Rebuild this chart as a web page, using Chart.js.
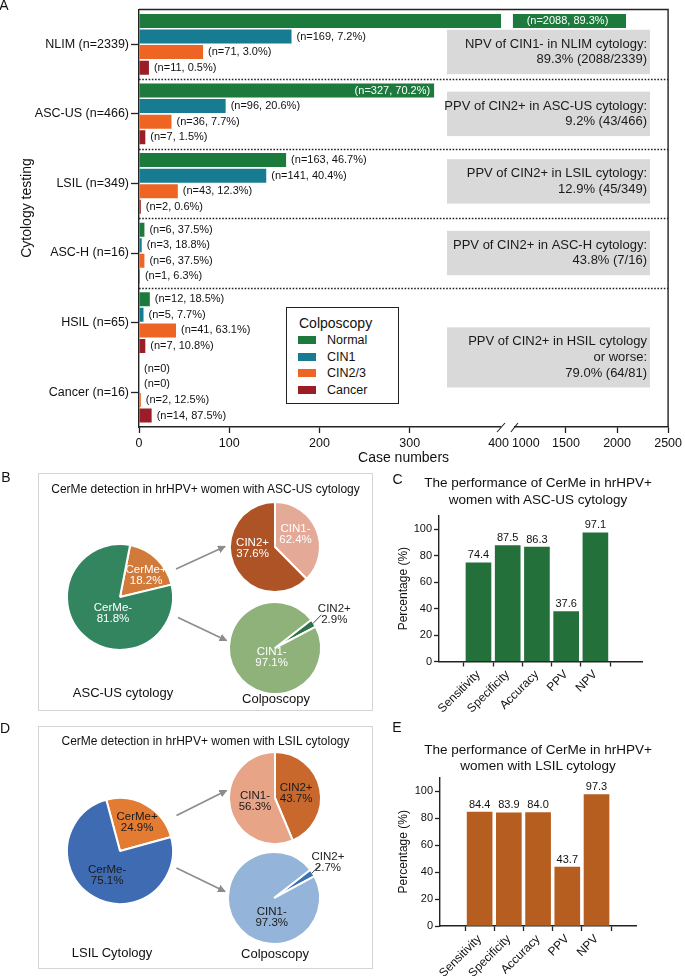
<!DOCTYPE html>
<html>
<head>
<meta charset="utf-8">
<script src="https://cdn.jsdelivr.net/npm/chart.js@4.4.1/dist/chart.umd.min.js"></script>
<style>
  body { margin: 0; background: #fff; font-family: 'Liberation Sans', Arial, sans-serif; color: #111; }
  #wrap { position: relative; width: 685px; height: 976px; overflow: hidden; }
  canvas { position: absolute; }
  .t { position: absolute; white-space: nowrap; transform: translate(-50%, -50%); line-height: 1; }
  .box { position: absolute; border: 1.5px solid #d4d4d4; box-sizing: border-box; }
  #legend { position: absolute; left: 286px; top: 307px; width: 113px; height: 97px; border: 1px solid #222; box-sizing: border-box; background: #fff; }
  #legend div { position: absolute; white-space: nowrap; line-height: 1; }
  svg { position: absolute; left: 0; top: 0; pointer-events: none; }
</style>
</head>
<body>
<div id="wrap">
  <canvas id="casesChart" width="685" height="470" style="left:0;top:0"></canvas>
  <div id="legend"></div>

  <div class="box" style="left:38px;top:473px;width:335px;height:238px"></div>
  <div class="box" style="left:38px;top:726px;width:335px;height:243px"></div>

  <canvas id="ascusPerfChart" width="265" height="215" style="left:390px;top:505px"></canvas>
  <canvas id="lsilPerfChart" width="265" height="209" style="left:390px;top:767px"></canvas>
</div>

<script>
// ---- panel A: colposcopy outcome by cytology ----
var cytology = ['NLIM', 'ASC-US', 'LSIL', 'ASC-H', 'HSIL', 'Cancer'];
var colpoLabels = ['Normal', 'CIN1', 'CIN2/3', 'Cancer'];
var normalCases = [2088, 327, 163, 6, 12, 0];
var cin1Cases = [169, 96, 141, 3, 5, 0];
var cin23Cases = [71, 36, 43, 6, 41, 2];
var cancerCases = [11, 7, 2, 1, 7, 14];
var caseTicks = [0, 100, 200, 300, 400, 1000, 1500, 2000, 2500];
var noteText = [
  ['NPV of CIN1- in NLIM cytology:', '89.3% (2088/2339)'],
  ['PPV of CIN2+ in ASC-US cytology:', '9.2% (43/466)'],
  ['PPV of CIN2+ in LSIL cytology:', '12.9% (45/349)'],
  ['PPV of CIN2+ in ASC-H cytology:', '43.8% (7/16)'],
  ['PPV of CIN2+ in HSIL cytology', 'or worse:', '79.0% (64/81)']
];
var noteAt = [0.11, 1, 1.97, 3, 4.5];     // category position each note box is centred on
var separatorsAfter = [0, 1, 2, 3];       // dotted line below these groups

// ---- panels C / E: performance ----
var perfLabels = ['Sensitivity', 'Specificity', 'Accuracy', 'PPV', 'NPV'];
var ascusPerf = [74.4, 87.5, 86.3, 37.6, 97.1];
var lsilPerf = [84.4, 83.9, 84.0, 43.7, 97.3];
var pctTicks = [0, 20, 40, 60, 80, 100];

// ---- panels B / D: pies ----
var ascusCerme = [18.2, 81.8];        // CerMe+, CerMe-
var ascusPosColpo = [37.6, 62.4];     // slices as the figure draws them (light, dark)
var ascusPosShown = [62.4, 37.6];     // numbers printed on those slices
var ascusNegColpo = [2.9, 97.1];      // CIN2+, CIN1-
var lsilCerme = [24.9, 75.1];         // CerMe+, CerMe-
var lsilPosColpo = [43.7, 56.3];      // CIN2+, CIN1-
var lsilNegColpo = [2.7, 97.3];       // CIN2+, CIN1-

var FONT = "'Liberation Sans', Arial, sans-serif";
Chart.defaults.font.family = FONT;
Chart.defaults.color = '#111';
Chart.defaults.animation = false;

var wrap = document.getElementById('wrap');
function put(text, x, y, size, extra) {
  var d = document.createElement('div');
  d.className = 't';
  d.textContent = text;
  d.style.left = x + 'px';
  d.style.top = y + 'px';
  d.style.fontSize = size + 'px';
  if (extra) d.style.cssText += extra;
  wrap.appendChild(d);
  return d;
}

// ---------- broken value axis for panel A ----------
var lowMax = 400, highMin = 1000, highMax = 2500;
var lowShare = 0.6823, gapShare = 0.0282;
function brokenFrac(v) {
  if (v <= lowMax) return v / lowMax * lowShare;
  if (v < highMin) return lowShare + (v - lowMax) / (highMin - lowMax) * gapShare;
  return lowShare + gapShare + (v - highMin) / (highMax - highMin) * (1 - lowShare - gapShare);
}
class BrokenScale extends Chart.LinearScale {
  static id = 'broken';
  static defaults = Chart.LinearScale.defaults;
  buildTicks() { return caseTicks.map(function(v) { return { value: v }; }); }
  getPixelForValue(v) { return this.getPixelForDecimal(brokenFrac(v)); }
  getValueForPixel(p) {
    var f = this.getDecimalForPixel(p);
    if (f <= lowShare) return f / lowShare * lowMax;
    if (f < lowShare + gapShare) return lowMax + (f - lowShare) / gapShare * (highMin - lowMax);
    return highMin + (f - lowShare - gapShare) / (1 - lowShare - gapShare) * (highMax - highMin);
  }
}
Chart.register(BrokenScale);

var segColors = ['#1c7a3c', '#177b92', '#ee6423', '#9b1d25'];
var series = [normalCases, cin1Cases, cin23Cases, cancerCases];
var totals = cytology.map(function(c, j) {
  return series.reduce(function(s, d) { return s + d[j]; }, 0);
});
var catLabels = cytology.map(function(c, j) { return c + ' (n=' + totals[j] + ')'; });

var panelA = {
  id: 'panelA',
  afterDatasetsDraw: function(chart) {
    var ctx = chart.ctx, area = chart.chartArea, xs = chart.scales.x, ys = chart.scales.y;
    var gapL = xs.getPixelForValue(lowMax), gapR = xs.getPixelForValue(highMin);
    ctx.save();
    ctx.fillStyle = '#fff';
    ctx.fillRect(gapL + 1, area.top + 1, gapR - gapL - 3, area.bottom - area.top - 2);

    ctx.strokeStyle = '#222';
    ctx.lineWidth = 1.6;
    ctx.setLineDash([1.6, 1.6]);
    separatorsAfter.forEach(function(i) {
      var y = Math.round(ys.getPixelForValue(i + 0.5)) + 0.5;
      ctx.beginPath(); ctx.moveTo(area.left, y); ctx.lineTo(area.right, y); ctx.stroke();
    });
    ctx.setLineDash([]);

    // note boxes
    ctx.font = '13px ' + FONT;
    ctx.textAlign = 'right';
    ctx.textBaseline = 'middle';
    noteText.forEach(function(lines, k) {
      var cy = ys.getPixelForValue(noteAt[k]);
      var h = lines.length * 15.7 + 13;
      ctx.fillStyle = '#d9d9d9';
      ctx.fillRect(447, cy - h / 2, 203, h);
      ctx.fillStyle = '#1a1a1a';
      lines.forEach(function(l, li) {
        ctx.fillText(l, 647, cy + (li - (lines.length - 1) / 2) * 15.7);
      });
    });

    // value labels
    ctx.font = '11px ' + FONT;
    chart.data.datasets.forEach(function(ds, di) {
      chart.getDatasetMeta(di).data.forEach(function(bar, j) {
        var v = ds.data[j];
        var txt = v === 0 ? '(n=0)' : '(n=' + v + ', ' + (v / totals[j] * 100).toFixed(1) + '%)';
        if (v > 300) {
          ctx.fillStyle = '#fff';
          if (v >= highMin) { ctx.textAlign = 'center'; ctx.fillText(txt, (gapR + bar.x) / 2 - 3, bar.y); }
          else { ctx.textAlign = 'right'; ctx.fillText(txt, bar.x - 4, bar.y); }
        } else {
          ctx.fillStyle = '#111';
          ctx.textAlign = 'left';
          ctx.fillText(txt, bar.x + 5, bar.y);
        }
      });
    });
    ctx.restore();
  },
  afterDraw: function(chart) {
    var ctx = chart.ctx, area = chart.chartArea, xs = chart.scales.x;
    var gapL = xs.getPixelForValue(lowMax), gapR = xs.getPixelForValue(highMin);
    var b = area.bottom;
    ctx.save();
    ctx.strokeStyle = '#222';
    ctx.lineWidth = 1.4;
    ctx.beginPath();
    ctx.moveTo(area.left, area.top); ctx.lineTo(area.right, area.top); ctx.lineTo(area.right, b);
    ctx.stroke();
    // axis break
    ctx.fillStyle = '#fff';
    ctx.fillRect(gapL + 1, b - 2, gapR - gapL - 2, 4);
    ctx.lineWidth = 1.1;
    ctx.beginPath();
    ctx.moveTo(gapL - 3, b + 5); ctx.lineTo(gapL + 5, b - 4);
    ctx.moveTo(gapR - 4, b + 5); ctx.lineTo(gapR + 3, b - 4);
    ctx.stroke();
    ctx.fillStyle = '#111';
    ctx.font = '12.5px ' + FONT;
    ctx.textBaseline = 'top';
    ctx.textAlign = 'right'; ctx.fillText(String(lowMax), gapL + 9, b + 10);
    ctx.textAlign = 'left'; ctx.fillText(String(highMin), gapR - 3, b + 10);
    // value-axis side title
    ctx.translate(27, 208);
    ctx.rotate(-Math.PI / 2);
    ctx.textAlign = 'center';
    ctx.textBaseline = 'middle';
    ctx.font = '14px ' + FONT;
    ctx.fillText('Cytology testing', 0, 0);
    ctx.restore();
  }
};

new Chart(document.getElementById('casesChart'), {
  type: 'bar',
  data: {
    labels: catLabels,
    datasets: series.map(function(d, i) {
      return { label: colpoLabels[i], data: d, backgroundColor: segColors[i], borderWidth: 0,
               categoryPercentage: 0.895, barPercentage: 0.9 };
    })
  },
  options: {
    indexAxis: 'y',
    responsive: false,
    layout: { padding: { top: 8, right: 14, left: 0, bottom: 0 } },
    plugins: { legend: { display: false }, tooltip: { enabled: false } },
    scales: {
      x: {
        type: 'broken',
        min: 0, max: highMax,
        afterFit: function(s) { s.height = 43; },
        ticks: {
          autoSkip: false, maxRotation: 0, padding: 3,
          font: { size: 12.5 }, color: '#111',
          callback: function(v) { return (v === lowMax || v === highMin) ? '' : String(v); }
        },
        grid: {
          drawOnChartArea: false, tickLength: 6, tickWidth: 1.3,
          tickColor: function(c) {
            return (c.tick && (c.tick.value === lowMax || c.tick.value === highMin)) ? 'rgba(0,0,0,0)' : '#222';
          }
        },
        border: { display: true, color: '#222', width: 1.4 },
        title: { display: true, text: 'Case numbers', font: { size: 14 }, color: '#111', padding: { top: 0, bottom: 3 } }
      },
      y: {
        afterFit: function(s) { s.width = 139; },
        ticks: { font: { size: 12.5 }, color: '#111', padding: 2 },
        grid: { drawOnChartArea: false, offset: false, tickLength: 8, tickWidth: 1.3, tickColor: '#222' },
        border: { display: true, color: '#222', width: 1.4 }
      }
    }
  },
  plugins: [panelA]
});

// legend for panel A
(function() {
  var lg = document.getElementById('legend');
  var t = document.createElement('div');
  t.textContent = 'Colposcopy';
  t.style.cssText = 'left:12px;top:8px;font-size:14px;';
  lg.appendChild(t);
  colpoLabels.forEach(function(name, i) {
    var cy = 33 + i * 16.7;
    var sw = document.createElement('div');
    sw.style.cssText = 'left:11px;width:18px;height:8px;top:' + (cy - 5) + 'px;background:' + segColors[i];
    lg.appendChild(sw);
    var tx = document.createElement('div');
    tx.textContent = name;
    tx.style.cssText = 'left:40px;font-size:12.5px;top:' + (cy - 7) + 'px;';
    lg.appendChild(tx);
  });
})();

// ---------- panels C / E ----------
var barValues = {
  id: 'barValues',
  afterDatasetsDraw: function(chart) {
    var ctx = chart.ctx;
    ctx.save();
    ctx.font = '11px ' + FONT;
    ctx.fillStyle = '#111';
    ctx.textAlign = 'center';
    ctx.textBaseline = 'bottom';
    chart.getDatasetMeta(0).data.forEach(function(bar, i) {
      ctx.fillText(chart.data.datasets[0].data[i].y.toFixed(1), bar.x, bar.y - 2);
    });
    ctx.restore();
  }
};

function perfChart(id, values, color, xMin, xMax, pad, yWidth, xHeight) {
  return new Chart(document.getElementById(id), {
    type: 'bar',
    data: {
      datasets: [{
        data: values.map(function(v, i) { return { x: i, y: v }; }),
        backgroundColor: color, borderWidth: 0, barThickness: 25
      }]
    },
    options: {
      responsive: false,
      layout: { padding: pad },
      plugins: { legend: { display: false }, tooltip: { enabled: false } },
      scales: {
        x: {
          type: 'linear', min: xMin, max: xMax,
          afterBuildTicks: function(s) { s.ticks = perfLabels.map(function(l, i) { return { value: i }; }); },
          afterFit: function(s) { s.height = xHeight; },
          ticks: {
            autoSkip: false, minRotation: 45, maxRotation: 45, padding: 1,
            font: { size: 12 }, color: '#111',
            callback: function(v) { return perfLabels[v]; }
          },
          grid: { drawOnChartArea: false, tickLength: 5, tickWidth: 1.3, tickColor: '#222' },
          border: { display: true, color: '#222', width: 1.4 }
        },
        y: {
          min: 0, max: 110,
          afterBuildTicks: function(s) { s.ticks = pctTicks.map(function(v) { return { value: v }; }); },
          afterFit: function(s) { s.width = yWidth; },
          ticks: { font: { size: 11 }, color: '#111', padding: 2 },
          grid: { drawOnChartArea: false, tickLength: 5, tickWidth: 1.3, tickColor: '#222' },
          border: { display: true, color: '#222', width: 1.4 },
          title: { display: true, text: 'Percentage (%)', font: { size: 12 }, color: '#111', padding: { top: 6, bottom: 0 } }
        }
      }
    },
    plugins: [barValues]
  });
}
perfChart('ascusPerfChart', ascusPerf, '#24703a', -0.656, 4.9, { top: 10.75, right: 13 }, 49, 58.5);
perfChart('lsilPerfChart', lsilPerf, '#b65d20', -0.685, 4.68, { top: 10.5, right: 19 }, 50, 50);

// ---------- panels B / D pies ----------
var pieText = {
  id: 'pieText',
  afterDatasetsDraw: function(chart, args, o) {
    var ctx = chart.ctx;
    ctx.save();
    ctx.font = '11.5px ' + FONT;
    ctx.textAlign = 'center';
    ctx.textBaseline = 'middle';
    chart.getDatasetMeta(0).data.forEach(function(arc, i) {
      var s = o.spots[i];
      var p = arc.getProps(['x', 'y', 'startAngle', 'endAngle', 'outerRadius']);
      var mid = (p.startAngle + p.endAngle) / 2;
      var a = mid + s.da * Math.PI / 180;
      var d = p.outerRadius * s.f;
      var x = p.x + Math.cos(a) * d, y = p.y + Math.sin(a) * d;
      if (s.f > 1) {
        ctx.strokeStyle = '#333';
        ctx.lineWidth = 0.9;
        ctx.beginPath();
        ctx.moveTo(p.x + Math.cos(mid) * p.outerRadius * 0.98, p.y + Math.sin(mid) * p.outerRadius * 0.98);
        ctx.lineTo(p.x + Math.cos(mid - 0.05) * p.outerRadius * 1.24, p.y + Math.sin(mid - 0.05) * p.outerRadius * 1.24);
        ctx.stroke();
        ctx.fillStyle = '#222';
      } else {
        ctx.fillStyle = o.ink;
      }
      ctx.fillText(o.names[i], x, y - 5.5);
      ctx.fillText(o.shown[i].toFixed(1) + '%', x, y + 5.5);
    });
    ctx.restore();
  }
};

var pies = [
  { cx: 120, cy: 597, r: 53, data: ascusCerme, names: ['CerMe+', 'CerMe-'], colors: ['#d27a3a', '#33855f'], rot: 11, ink: '#fff',
    spots: [{ f: 0.64, da: 6.6 }, { f: 0.33, da: -20 }] },
  { cx: 275, cy: 547, r: 45, data: ascusPosColpo, shown: ascusPosShown, names: ['CIN1-', 'CIN2+'], colors: ['#e5aa97', '#ae5325'], rot: 0, ink: '#fff',
    spots: [{ f: 0.54, da: -10 }, { f: 0.5, da: 17.7 }] },
  { cx: 275, cy: 648, r: 46, data: ascusNegColpo, names: ['CIN2+', 'CIN1-'], colors: ['#2a7448', '#8eb27a'], rot: 52, ink: '#fff',
    spots: [{ f: 1.48, da: 3.4 }, { f: 0.22, da: -38 }] },
  { cx: 120, cy: 851, r: 53, data: lsilCerme, names: ['CerMe+', 'CerMe-'], colors: ['#e37b33', '#3f6bb2'], rot: -15, ink: '#1a1a1a',
    spots: [{ f: 0.63, da: 1 }, { f: 0.52, da: -2 }] },
  { cx: 275, cy: 798, r: 46, data: lsilPosColpo, names: ['CIN2+', 'CIN1-'], colors: ['#c9682c', '#e8a487'], rot: 0, ink: '#1a1a1a',
    spots: [{ f: 0.47, da: -1 }, { f: 0.44, da: 3 }] },
  { cx: 274, cy: 898, r: 46, data: lsilNegColpo, names: ['CIN2+', 'CIN1-'], colors: ['#3b72b2', '#94b5d9'], rot: 52, ink: '#1a1a1a',
    spots: [{ f: 1.4, da: 0 }, { f: 0.42, da: -50 }] }
];

pies.forEach(function(p) {
  var S = 2 * p.r + 110;
  var c = document.createElement('canvas');
  c.width = S; c.height = S;
  c.style.left = (p.cx - S / 2) + 'px';
  c.style.top = (p.cy - S / 2) + 'px';
  wrap.appendChild(c);
  new Chart(c, {
    type: 'pie',
    data: { labels: p.names, datasets: [{ data: p.data, backgroundColor: p.colors, borderColor: '#fff', borderWidth: 2 }] },
    options: {
      responsive: false,
      radius: p.r,
      rotation: p.rot,
      layout: { padding: 0 },
      events: [],
      plugins: {
        legend: { display: false }, tooltip: { enabled: false },
        pieText: { spots: p.spots, names: p.names, shown: p.shown || p.data, ink: p.ink }
      }
    },
    plugins: [pieText]
  });
});

// arrows between pies
(function() {
  var arrows = [[176, 569, 225, 546.5], [178, 617.5, 226.5, 640.5], [176.5, 815.5, 226.5, 790.5], [176.5, 868, 225, 891.5]];
  var ns = 'http://www.w3.org/2000/svg';
  var svg = document.createElementNS(ns, 'svg');
  svg.setAttribute('width', 685); svg.setAttribute('height', 976);
  svg.innerHTML = '<defs><marker id="ah" markerWidth="8" markerHeight="8" refX="7" refY="4" orient="auto" markerUnits="userSpaceOnUse">' +
    '<path d="M0,0 L8,4 L0,8 Z" fill="#8c8c8c"/></marker></defs>';
  arrows.forEach(function(a) {
    var l = document.createElementNS(ns, 'line');
    l.setAttribute('x1', a[0]); l.setAttribute('y1', a[1]);
    l.setAttribute('x2', a[2]); l.setAttribute('y2', a[3]);
    l.setAttribute('stroke', '#8c8c8c'); l.setAttribute('stroke-width', 1.6);
    l.setAttribute('marker-end', 'url(#ah)');
    svg.appendChild(l);
  });
  wrap.appendChild(svg);
})();

// ---------- text ----------
put('A', 4, 5, 14);
put('B', 6, 477, 14);
put('C', 397.5, 479, 14);
put('D', 5, 727.5, 14);
put('E', 397, 727, 14);
put('CerMe detection in hrHPV+ women with ASC-US cytology', 205.5, 489, 12);
put('CerMe detection in hrHPV+ women with LSIL cytology', 205.5, 741, 12);
put('ASC-US cytology', 123, 692, 13);
put('Colposcopy', 276, 698, 13);
put('LSIL Cytology', 112, 952, 13);
put('Colposcopy', 275, 953, 13);
put('The performance of CerMe in hrHPV+', 538, 483, 13.5);
put('women with ASC-US cytology', 538, 500, 13.5);
put('The performance of CerMe in hrHPV+', 538, 750, 13.5);
put('women with LSIL cytology', 538, 765.5, 13.5);
</script>
</body>
</html>
